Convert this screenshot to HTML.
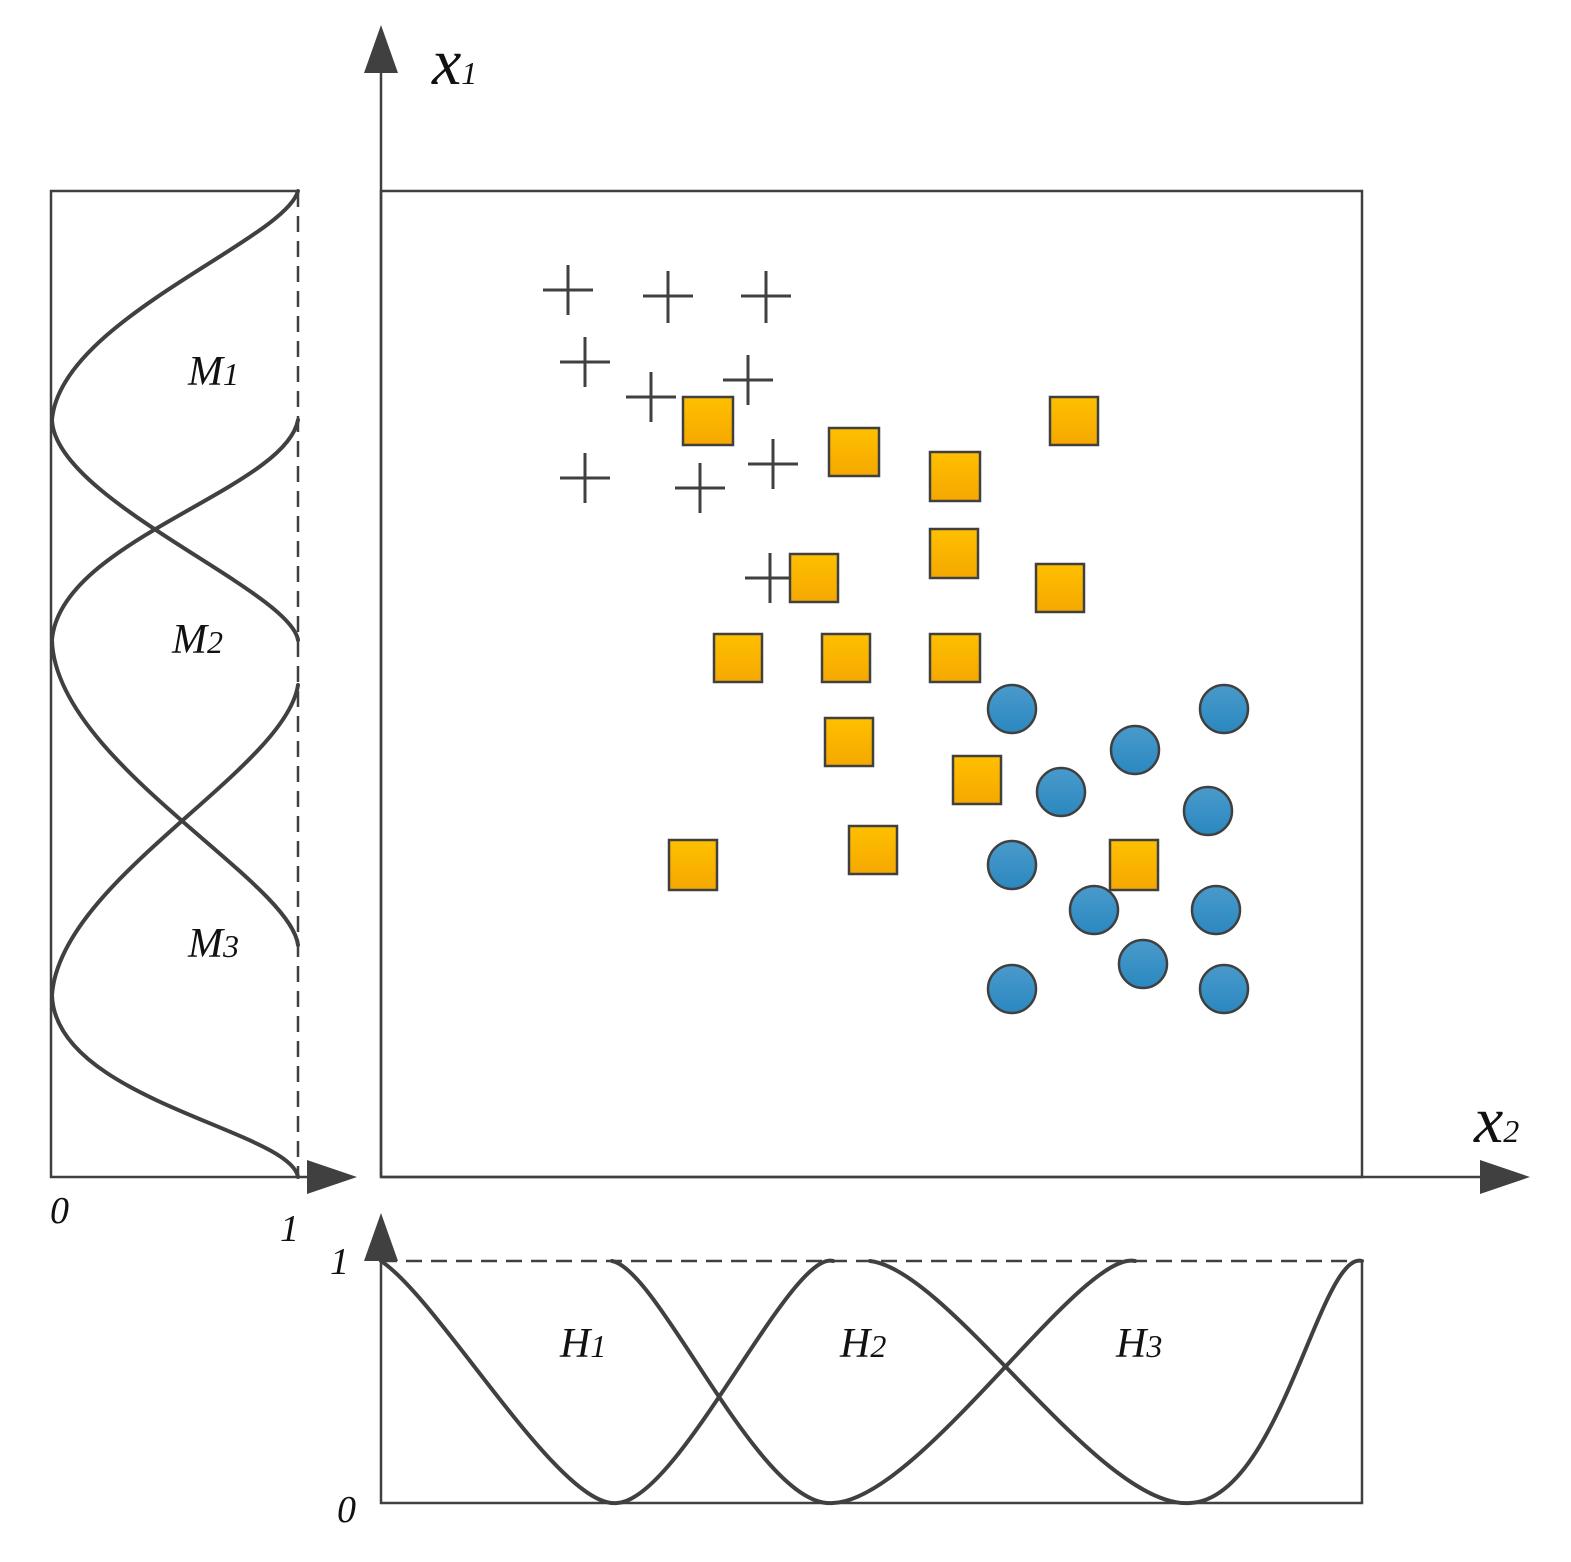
<!DOCTYPE html>
<html><head><meta charset="utf-8"><style>body{margin:0;background:#fff}svg{display:block}</style></head><body>
<svg width="1571" height="1562" viewBox="0 0 1571 1562" xmlns="http://www.w3.org/2000/svg">
<defs>
<linearGradient id="sq" x1="0" y1="0" x2="0" y2="1"><stop offset="0" stop-color="#ffc000"/><stop offset="1" stop-color="#f5a800"/></linearGradient>
<linearGradient id="ci" x1="0" y1="0" x2="0" y2="1"><stop offset="0" stop-color="#4a9acb"/><stop offset="1" stop-color="#2a88c0"/></linearGradient>
</defs>
<g stroke="#404040" fill="none" stroke-width="2.5">
<line x1="381" y1="1177" x2="381" y2="70"/>
<line x1="381" y1="1177" x2="1490" y2="1177"/>
<rect x="381" y="191" width="981" height="986"/>
<polyline points="298,191 51,191 51,1177 310,1177"/>
<line x1="298" y1="191" x2="298" y2="1177" stroke-dasharray="16,9"/>
<polyline points="381,1261 381,1503 1362,1503 1362,1261"/>
<line x1="381" y1="1261" x2="1362" y2="1261" stroke-dasharray="16,9"/>
<line x1="381" y1="1261" x2="381" y2="1225"/>
</g>
<g fill="#404040">
<polygon points="381,25 364,73 398,73"/>
<polygon points="1530,1177 1480,1160 1480,1194"/>
<polygon points="357,1177 307,1160 307,1194"/>
<polygon points="381,1213 364,1261 398,1261"/>
</g>
<g stroke="#404040" fill="none" stroke-width="4" stroke-linecap="round">
<path d="M298,191 C285,240 60,320 52,420 C55,500 290,590 298,640"/>
<path d="M298,420 C285,490 60,540 52,640 C55,760 290,880 298,945"/>
<path d="M298,685 C285,770 60,880 52,995 C55,1100 290,1130 298,1177"/>
<path d="M381,1261 C440,1300 560,1510 617,1503 C680,1500 790,1250 833,1261"/>
<path d="M612,1261 C660,1270 760,1510 833,1503 C920,1500 1080,1250 1135,1261"/>
<path d="M870,1261 C950,1270 1100,1510 1190,1503 C1280,1500 1320,1250 1362,1261"/>
</g>
<g stroke="#404040" stroke-width="3">
<path d="M543,290h50M568,265v50"/>
<path d="M643,296h50M668,271v52"/>
<path d="M741,296h50M766,271v52"/>
<path d="M560,362h50M585,337v50"/>
<path d="M626,397h50M651,372v50"/>
<path d="M723,380h50M748,355v50"/>
<path d="M560,478h50M585,453v50"/>
<path d="M675,488h50M700,463v50"/>
<path d="M748,464h50M773,439v50"/>
<path d="M745,578h50M770,553v50"/>
</g>
<g fill="url(#sq)" stroke="#404040" stroke-width="2.5">
<rect x="683" y="397" width="50" height="48"/>
<rect x="829" y="428" width="50" height="48"/>
<rect x="930" y="452" width="50" height="49"/>
<rect x="1050" y="397" width="48" height="48"/>
<rect x="930" y="529" width="48" height="49"/>
<rect x="1036" y="564" width="48" height="48"/>
<rect x="790" y="554" width="48" height="48"/>
<rect x="714" y="634" width="48" height="48"/>
<rect x="822" y="634" width="48" height="48"/>
<rect x="930" y="634" width="50" height="48"/>
<rect x="825" y="718" width="48" height="48"/>
<rect x="953" y="756" width="48" height="48"/>
<rect x="669" y="840" width="48" height="50"/>
<rect x="849" y="826" width="48" height="48"/>
<rect x="1110" y="840" width="48" height="50"/>
</g>
<g fill="url(#ci)" stroke="#404040" stroke-width="2.5">
<circle cx="1012" cy="709" r="24"/><circle cx="1224" cy="709" r="24"/>
<circle cx="1135" cy="750" r="24"/><circle cx="1061" cy="792" r="24"/>
<circle cx="1208" cy="811" r="24"/><circle cx="1012" cy="865" r="24"/>
<circle cx="1094" cy="910" r="24"/><circle cx="1216" cy="910" r="24"/>
<circle cx="1143" cy="964" r="24"/><circle cx="1012" cy="989" r="24"/>
<circle cx="1224" cy="989" r="24"/>
</g>
<g font-family="Liberation Serif, serif" font-style="italic" fill="#111">
<text x="432" y="84" font-size="66">x<tspan font-size="32">1</tspan></text>
<text x="1474" y="1142" font-size="66">x<tspan font-size="32">2</tspan></text>
<text x="188" y="385" font-size="42">M<tspan font-size="32">1</tspan></text>
<text x="172" y="653" font-size="42">M<tspan font-size="32">2</tspan></text>
<text x="188" y="957" font-size="42">M<tspan font-size="32">3</tspan></text>
<text x="560" y="1357" font-size="42">H<tspan font-size="32">1</tspan></text>
<text x="840" y="1357" font-size="42">H<tspan font-size="32">2</tspan></text>
<text x="1116" y="1357" font-size="42">H<tspan font-size="32">3</tspan></text>
<text x="50" y="1223" font-size="38">0</text>
<text x="280" y="1241" font-size="38">1</text>
<text x="330" y="1274" font-size="38">1</text>
<text x="337" y="1522" font-size="38">0</text>
</g>
</svg>
</body></html>
